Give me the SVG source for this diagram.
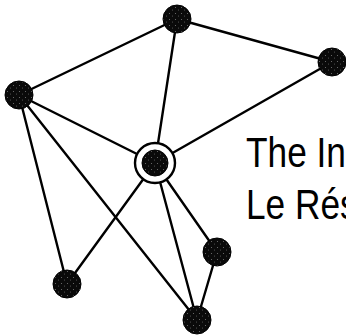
<svg xmlns="http://www.w3.org/2000/svg" width="346" height="335" viewBox="0 0 346 335">
  <defs>
    <pattern id="speckle" width="6" height="6" patternUnits="userSpaceOnUse">
      <rect width="6" height="6" fill="#0a0a0a"/>
      <circle cx="1.5" cy="1.5" r="0.55" fill="#777"/>
      <circle cx="4.5" cy="4" r="0.5" fill="#666"/>
    </pattern>
  </defs>
  <style>
    .edge { stroke: #000; stroke-width: 2.4; stroke-linecap: round; fill: none; }
    .dot { fill: url(#speckle); stroke: #000; stroke-width: 1; }
    .ring { fill: #fff; stroke: #000; stroke-width: 2.4; }
    .label { font-family: "Liberation Sans", Arial, sans-serif; font-size: 42px; fill: #000; }
  </style>
  <rect width="346" height="335" fill="#fff"/>
  <g id="connectors">
    <line class="edge" x1="177" y1="19" x2="19" y2="95"/>
    <line class="edge" x1="177" y1="19" x2="332" y2="62"/>
    <line class="edge" x1="177" y1="19" x2="155" y2="163"/>
    <line class="edge" x1="332" y1="62" x2="155" y2="163"/>
    <line class="edge" x1="19" y1="95" x2="155" y2="163"/>
    <line class="edge" x1="19" y1="95" x2="67" y2="284"/>
    <line class="edge" x1="19" y1="95" x2="197" y2="320"/>
    <line class="edge" x1="155" y1="163" x2="67" y2="284"/>
    <line class="edge" x1="155" y1="163" x2="197" y2="320"/>
    <line class="edge" x1="155" y1="163" x2="217" y2="252"/>
    <line class="edge" x1="217" y1="252" x2="197" y2="320"/>
  </g>
  <g id="node-top"><circle class="dot" cx="177" cy="19" r="14"/></g>
  <g id="node-right"><circle class="dot" cx="332" cy="62" r="14"/></g>
  <g id="node-left"><circle class="dot" cx="19" cy="95" r="14"/></g>
  <g id="node-center">
    <circle class="ring" cx="155" cy="163" r="20"/>
    <circle class="dot" cx="155" cy="163" r="13"/>
  </g>
  <g id="node-lower-right"><circle class="dot" cx="217" cy="252" r="14"/></g>
  <g id="node-lower-left"><circle class="dot" cx="67" cy="284" r="14"/></g>
  <g id="node-bottom"><circle class="dot" cx="197" cy="320" r="14"/></g>
  <g id="title">
    <text class="label" transform="translate(246,167) scale(0.84,1)" x="0" y="0">The In</text>
    <text class="label" transform="translate(246,219) scale(0.84,1)" x="0" y="0">Le Rés</text>
  </g>
</svg>
